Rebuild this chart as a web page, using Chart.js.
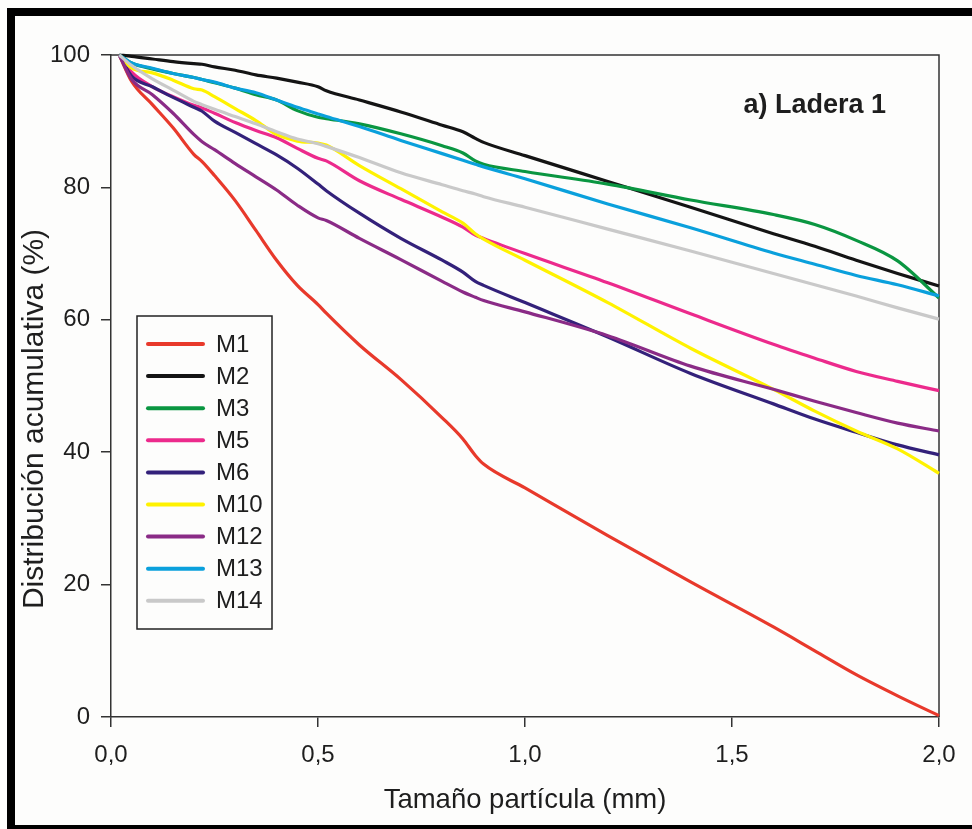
<!DOCTYPE html>
<html lang="es">
<head>
<meta charset="utf-8">
<title>Ladera 1 - distribución acumulativa</title>
<script src="https://cdn.jsdelivr.net/npm/chart.js@4.4.1/dist/chart.umd.min.js"></script>
<style>
  html, body { margin: 0; padding: 0; background: #fff; }
  canvas { display: block; }
</style>
</head>
<body>
<canvas id="chart" width="972" height="829"></canvas>
<script>
// Particle size (mm) at which every curve is sampled
const sizes = [0.02, 0.05, 0.1, 0.15, 0.2, 0.22, 0.25, 0.3, 0.35, 0.4, 0.45, 0.5, 0.52, 0.6, 0.7, 0.8, 0.85, 0.88, 0.9, 1.0, 1.2, 1.4, 1.6, 1.7, 1.8, 1.9, 2.0];

// Cumulative distribution (%) per sample
const m1  = [100, 96.0, 92.5, 89.0, 85.0, 83.9, 81.8, 78.0, 73.5, 69.0, 65.2, 62.3, 61.0, 56.2, 51.0, 45.2, 42.0, 39.5, 38.2, 34.6, 27.4, 20.4, 13.6, 10.0, 6.4, 3.2, 0.2];
const m2  = [100, 99.8, 99.4, 99.0, 98.7, 98.6, 98.2, 97.7, 97.0, 96.5, 95.9, 95.2, 94.6, 93.2, 91.4, 89.4, 88.4, 87.4, 86.8, 84.8, 80.9, 77.0, 73.0, 71.1, 69.0, 67.0, 65.1];
const m3  = [100, 98.8, 97.9, 97.2, 96.6, 96.3, 95.8, 95.0, 94.0, 93.2, 91.6, 90.6, 90.4, 89.6, 88.1, 86.3, 85.2, 84.0, 83.5, 82.4, 80.5, 78.1, 75.9, 74.4, 72.0, 68.9, 63.3];
const m5  = [100, 97.4, 95.2, 93.7, 92.4, 92.0, 91.2, 89.8, 88.6, 87.5, 85.9, 84.4, 84.0, 81.0, 78.2, 75.5, 74.0, 72.8, 72.3, 70.0, 65.6, 60.9, 56.3, 54.2, 52.2, 50.7, 49.3];
const m6  = [100, 96.8, 95.2, 93.6, 92.1, 91.5, 90.0, 88.3, 86.6, 84.9, 82.9, 80.5, 79.5, 76.1, 72.3, 69.0, 67.2, 65.8, 65.2, 62.6, 57.4, 51.9, 47.3, 45.0, 43.0, 41.1, 39.6];
const m10 = [100, 98.0, 97.3, 96.2, 94.9, 94.7, 93.7, 91.9, 90.1, 88.0, 87.0, 86.7, 86.4, 83.3, 79.8, 76.3, 74.6, 73.0, 72.2, 69.0, 62.6, 55.7, 49.5, 46.2, 43.2, 40.5, 36.8];
const m12 = [100, 96.3, 94.0, 91.2, 88.0, 86.9, 85.7, 83.6, 81.6, 79.6, 77.3, 75.4, 75.0, 72.3, 69.1, 65.8, 64.2, 63.4, 62.9, 61.2, 57.6, 53.0, 49.5, 47.7, 46.0, 44.4, 43.2];
const m13 = [100, 98.8, 98.0, 97.2, 96.6, 96.3, 95.9, 95.0, 94.3, 93.2, 92.1, 91.1, 90.7, 89.2, 87.1, 85.1, 84.1, 83.5, 83.1, 81.3, 77.5, 73.9, 70.1, 68.4, 66.7, 65.3, 63.6];
const m14 = [100, 98.4, 96.4, 94.7, 93.0, 92.5, 91.8, 90.7, 89.6, 88.4, 87.3, 86.6, 86.2, 84.5, 82.2, 80.4, 79.5, 79.0, 78.6, 77.0, 73.7, 70.4, 67.0, 65.3, 63.6, 61.8, 60.1];

const sampleNames  = ['M1', 'M2', 'M3', 'M5', 'M6', 'M10', 'M12', 'M13', 'M14'];
const sampleValues = [m1, m2, m3, m5, m6, m10, m12, m13, m14];
const sampleColors = ['#e8392b', '#141414', '#0a9641', '#ec2a8c', '#33217a', '#fff200', '#8a2b86', '#0aa0dc', '#c9c9c9'];

const xTickValues = [0, 0.5, 1, 1.5, 2];
const xTickLabels = ['0,0', '0,5', '1,0', '1,5', '2,0'];
const yTickValues = [0, 20, 40, 60, 80, 100];

const panelLabel = 'a) Ladera 1';
const panelLabelAt = { x: 1.70, y: 92.4 };
const xTitle = 'Tamaño partícula (mm)';
const yTitle = 'Distribución acumulativa (%)';

const FONT = '"Liberation Sans", Arial, Helvetica, sans-serif';
const INK = '#1e1e1e';
const PAPER = '#fdfdfc';

Chart.defaults.font.family = FONT;
Chart.defaults.color = INK;

// Page background and the heavy black frame round the figure
const framePlugin = {
  id: 'frame',
  beforeDraw(chart) {
    const ctx = chart.ctx;
    ctx.save();
    ctx.fillStyle = PAPER;
    ctx.fillRect(0, 0, chart.width, chart.height);
    ctx.fillStyle = '#000';
    ctx.fillRect(7, 8, 8, chart.height - 8);
    ctx.fillRect(7, 8, chart.width - 7, 8);
    ctx.fillRect(7, 825, chart.width - 7, chart.height - 825);
    ctx.restore();
  },
  beforeDatasetsDraw(chart) {
    // top and right sides of the plot box
    const { ctx, chartArea: a } = chart;
    ctx.save();
    ctx.strokeStyle = '#333';
    ctx.lineWidth = 1.5;
    ctx.beginPath();
    ctx.moveTo(a.left, a.top);
    ctx.lineTo(a.right, a.top);
    ctx.lineTo(a.right, a.bottom);
    ctx.stroke();
    ctx.restore();
  }
};

// Boxed legend inside the plot, lower left
const legendBoxPlugin = {
  id: 'legendBox',
  afterDatasetsDraw(chart) {
    const { ctx, chartArea: a } = chart;
    const left = a.left + 26;
    const top = a.top + 261;
    const width = 135;
    const height = 313;
    ctx.save();
    ctx.fillStyle = PAPER;
    ctx.fillRect(left, top, width, height);
    ctx.strokeStyle = '#222';
    ctx.lineWidth = 1.5;
    ctx.strokeRect(left, top, width, height);
    ctx.font = '24px ' + FONT;
    ctx.textBaseline = 'middle';
    ctx.textAlign = 'left';
    chart.data.datasets.forEach((ds, i) => {
      const y = top + 28 + i * 32.1;
      ctx.strokeStyle = ds.borderColor;
      ctx.lineWidth = 4;
      ctx.lineCap = 'round';
      ctx.beginPath();
      ctx.moveTo(left + 11, y);
      ctx.lineTo(left + 66, y);
      ctx.stroke();
      ctx.fillStyle = INK;
      ctx.fillText(ds.label, left + 79, y + 1);
    });
    ctx.restore();
  }
};

// Panel tag and the rotated y axis caption
const captionsPlugin = {
  id: 'captions',
  afterDraw(chart) {
    const { ctx, chartArea: a, scales } = chart;
    ctx.save();
    ctx.fillStyle = INK;
    ctx.font = 'bold 27px ' + FONT;
    ctx.textAlign = 'center';
    ctx.textBaseline = 'middle';
    ctx.fillText(panelLabel, scales.x.getPixelForValue(panelLabelAt.x), scales.y.getPixelForValue(panelLabelAt.y));

    ctx.translate(35, a.bottom - 298);
    ctx.rotate(-Math.PI / 2);
    ctx.font = '30px ' + FONT;
    ctx.fillText(yTitle, 0, 0);
    ctx.restore();
  }
};

const datasets = sampleNames.map((name, i) => ({
  label: name,
  data: sizes.map((s, j) => ({ x: s, y: sampleValues[i][j] })),
  borderColor: sampleColors[i],
  borderWidth: 3.2,
  pointRadius: 0,
  fill: false,
  clip: false,
  cubicInterpolationMode: 'monotone',
  order: sampleNames.length - i
}));

new Chart(document.getElementById('chart'), {
  type: 'line',
  data: { datasets },
  plugins: [framePlugin, legendBoxPlugin, captionsPlugin],
  options: {
    responsive: false,
    animation: false,
    devicePixelRatio: 1,
    layout: { padding: { top: 55, right: 33, bottom: 0, left: 0 } },
    plugins: {
      legend: { display: false },
      tooltip: { enabled: false }
    },
    scales: {
      x: {
        type: 'linear',
        min: 0,
        max: 2,
        afterBuildTicks: s => { s.ticks = xTickValues.map(v => ({ value: v })); },
        afterFit: s => { s.height = 112; },
        grid: { drawOnChartArea: false, tickLength: 10, color: '#333', lineWidth: 1.5 },
        border: { color: '#333', width: 1.5 },
        ticks: {
          padding: 14,
          maxRotation: 0,
          font: { size: 24 },
          color: INK,
          callback: (v, i) => xTickLabels[i]
        },
        title: { display: true, text: xTitle, font: { size: 27.5 }, color: INK, padding: { top: 0, bottom: 12 } }
      },
      y: {
        min: 0,
        max: 100,
        afterBuildTicks: s => { s.ticks = yTickValues.map(v => ({ value: v })); },
        afterFit: s => { s.width = 111; },
        grid: { drawOnChartArea: false, tickLength: 10, color: '#333', lineWidth: 1.5 },
        border: { color: '#333', width: 1.5 },
        ticks: { padding: 11, font: { size: 24 }, color: INK, callback: v => String(v) }
      }
    }
  }
});
</script>
</body>
</html>
